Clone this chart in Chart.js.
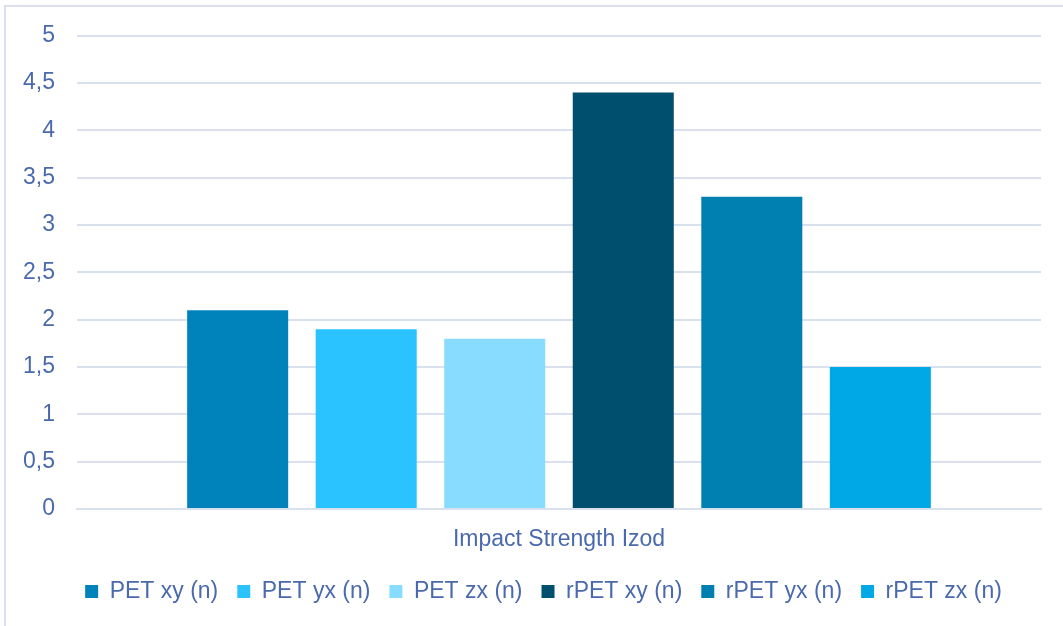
<!DOCTYPE html>
<html lang="en">
<head>
  <meta charset="UTF-8" />
  <title>Impact Strength Izod</title>
  <script src="https://cdn.jsdelivr.net/npm/chart.js"></script>
  <style>
    body, html {
      margin: 0;
      width: 1063px;
      height: 626px;
      background: #fff;
      overflow: hidden;
    }
    #frame {
      position: absolute;
      left: 4px;
      top: 5px;
      width: 1070px;
      height: 640px;
      border-left: 2px solid #d9e0ee;
      border-top: 2px solid #d9e0ee;
    }
    #wrap {
      position: absolute;
      left: 0;
      top: 0;
      width: 1063px;
      height: 626px;
    }
  </style>
</head>
<body>
  <div id="frame"></div>
  <div id="wrap"><canvas id="impactChart"></canvas></div>

  <script>
    const categories = ['Impact Strength Izod'];
    const seriesNames = ['PET xy (n)', 'PET yx (n)', 'PET zx (n)', 'rPET xy (n)', 'rPET yx (n)', 'rPET zx (n)'];
    const seriesValues = [2.1, 1.9, 1.8, 4.4, 3.3, 1.5];
    const seriesColors = ['#0083ba', '#2ac3ff', '#88dcff', '#004f6e', '#0080b0', '#00a9e6'];

    const textColor = '#4a6aad';
    const gridColor = '#d9e0ee';
    const fontFamily = '"Liberation Sans", Arial, sans-serif';

    // the legend in the original sits centred under the plot area, not the canvas
    const shiftLegend = {
      id: 'shiftLegend',
      afterLayout(chart) {
        if (chart.legend) chart.legend.left += 46;
      }
    };

    const ctx = document.getElementById('impactChart').getContext('2d');

    const chart = new Chart(ctx, {
      type: 'bar',
      data: {
        labels: categories,
        datasets: seriesNames.map((name, i) => ({
          label: name,
          data: [seriesValues[i]],
          backgroundColor: seriesColors[i],
          borderWidth: 0,
          categoryPercentage: 0.8,
          barPercentage: 0.786
        }))
      },
      options: {
        responsive: true,
        maintainAspectRatio: false,
        animation: false,
        layout: {
          padding: { top: 25, right: 22, left: 0, bottom: 13 }
        },
        scales: {
          x: {
            grid: { display: false, drawTicks: false },
            border: { display: true, color: gridColor, width: 2 },
            ticks: {
              color: textColor,
              font: { family: fontFamily, size: 23 },
              padding: 17
            },
            afterFit: scale => { scale.height = 52; }
          },
          y: {
            min: 0,
            max: 5,
            grid: { color: gridColor, lineWidth: 2, drawTicks: false },
            border: { display: false },
            ticks: {
              stepSize: 0.5,
              color: textColor,
              font: { family: fontFamily, size: 23 },
              padding: 22,
              callback: value => String(value).replace('.', ',')
            },
            afterFit: scale => { scale.width = 77; }
          }
        },
        plugins: {
          legend: {
            position: 'bottom',
            labels: {
              color: textColor,
              font: { family: fontFamily, size: 23 },
              boxWidth: 13,
              boxHeight: 13,
              padding: 19
            }
          },
          tooltip: { enabled: false }
        }
      },
      plugins: [shiftLegend]
    });
  </script>
</body>
</html>
